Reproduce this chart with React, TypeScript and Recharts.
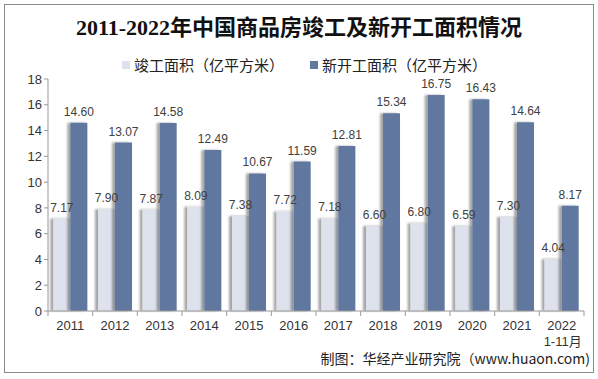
import React from 'react';
import { BarChart, Bar, XAxis, YAxis, LabelList } from 'recharts';

const categories = ['2011', '2012', '2013', '2014', '2015', '2016', '2017', '2018', '2019', '2020', '2021', '2022'];
const tickNotes: Record<string, string> = { '2022': '1-11月' };
const completedArea = [7.17, 7.9, 7.87, 8.09, 7.38, 7.72, 7.18, 6.6, 6.8, 6.59, 7.3, 4.04];
const newStartArea = [14.6, 13.07, 14.58, 12.49, 10.67, 11.59, 12.81, 15.34, 16.75, 16.43, 14.64, 8.17];
const yTicks = [0, 2, 4, 6, 8, 10, 12, 14, 16, 18];
const seriesNames = ['竣工面积（亿平方米）', '新开工面积（亿平方米）'];
const title = '2011-2022年中国商品房竣工及新开工面积情况';
const source = '制图：华经产业研究院（www.huaon.com)';

const data = categories.map((c, i) => ({ year: c, done: completedArea[i], started: newStartArea[i] }));

const LIGHT = '#dde2ec';
const DARK = '#61789f';
const font = "'Liberation Sans', Arial, 'Noto Sans CJK SC', sans-serif";

const XTick = (props: any) => {
  const { x, y, payload, index } = props;
  const off = payload && payload.offset ? payload.offset : 0;
  const note = tickNotes[payload.value];
  return (
    <g>
      <line x1={x - off} x2={x - off} y1={y - 8} y2={y - 3} stroke="#999" />
      {index === categories.length - 1 && (
        <line x1={x + off} x2={x + off} y1={y - 8} y2={y - 3} stroke="#999" />
      )}
      <text x={x} y={y + 11} textAnchor="middle" fontSize={13} fill="#333" fontFamily={font}>
        {payload.value}
      </text>
      {note && (
        <text x={x + 1} y={y + 27} textAnchor="middle" fontSize={13} fill="#333" fontFamily={font}>
          {note}
        </text>
      )}
    </g>
  );
};

export default function App() {
  return (
    <div style={{ position: 'absolute', left: 0, top: 0, width: 598, height: 379, background: '#fff', fontFamily: font }}>
      <div style={{ position: 'absolute', left: 4, top: 4, width: 588, height: 367, border: '1px solid #8a8a8a' }} />
      <div style={{ position: 'absolute', left: 0, top: 13, width: 598, textAlign: 'center', fontSize: 22, fontWeight: 'bold', color: '#111', fontFamily: "'Liberation Serif', 'Noto Sans CJK SC', serif", lineHeight: '30px' }}>
        {title}
      </div>
      <div style={{ position: 'absolute', left: 122, top: 55, display: 'flex', alignItems: 'center', fontSize: 15, color: '#222', lineHeight: '20px', fontFamily: "'Noto Sans CJK SC', sans-serif" }}>
        <span style={{ width: 8, height: 8, background: LIGHT, display: 'inline-block', marginRight: 4 }} />
        <span>{seriesNames[0]}</span>
        <span style={{ width: 8, height: 8, background: DARK, display: 'inline-block', marginLeft: 26, marginRight: 4 }} />
        <span>{seriesNames[1]}</span>
      </div>
      <div style={{ position: 'absolute', right: 8, top: 349, fontSize: 14, color: '#222', lineHeight: '18px', fontFamily: "'Noto Sans CJK SC', sans-serif" }}>
        {source}
      </div>
      <div style={{ position: 'absolute', left: 0, top: 0 }}>
        <BarChart width={598} height={379} data={data} margin={{ top: 79, right: 14, bottom: 38, left: 0 }} barCategoryGap="12%" barGap={0}>
          <defs>
            <filter id="sh" x="-50%" y="-10%" width="200%" height="120%">
              <feDropShadow dx="-3" dy="0" stdDeviation="1.2" floodColor="#000" floodOpacity="0.35" />
            </filter>
          </defs>
          <XAxis dataKey="year" tickLine={false} axisLine={{ stroke: '#999' }} tick={<XTick />} interval={0} height={30} />
          <YAxis domain={[0, 18]} ticks={yTicks} width={48} tickSize={4} tickLine={{ stroke: '#999' }} axisLine={{ stroke: '#999' }} tick={{ fontSize: 13, fill: '#333', fontFamily: font }} />
          <Bar dataKey="done" fill={LIGHT} isAnimationActive={false} filter="url(#sh)">
            <LabelList dataKey="done" position="top" offset={7} fontSize={12} fill="#404040" fontFamily={font} formatter={(v: any) => Number(v).toFixed(2)} />
          </Bar>
          <Bar dataKey="started" fill={DARK} isAnimationActive={false} filter="url(#sh)">
            <LabelList dataKey="started" position="top" offset={7} fontSize={12} fill="#404040" fontFamily={font} formatter={(v: any) => Number(v).toFixed(2)} />
          </Bar>
        </BarChart>
      </div>
    </div>
  );
}
